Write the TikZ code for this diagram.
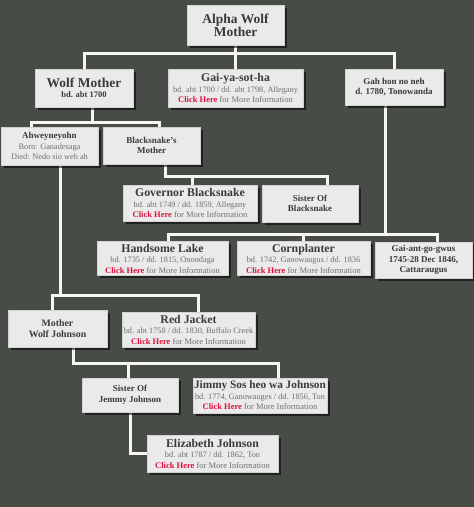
\documentclass[tikz,border=0pt]{standalone}
\usepackage{fontspec}
\setmainfont{Liberation Serif}
\usetikzlibrary{shadows}
\pgfdeclarelayer{bglayer}
\pgfdeclarelayer{connlayer}
\pgfsetlayers{bglayer,connlayer,main}
\definecolor{bgc}{HTML}{484C47}
\definecolor{boxfill}{HTML}{EAEAEA}
\definecolor{boxedge}{HTML}{D2D2D2}
\definecolor{titlec}{HTML}{3A3A3A}
\definecolor{detc}{HTML}{707070}
\definecolor{clickred}{HTML}{E0103C}
\definecolor{linec}{HTML}{F6F6F2}
\newcommand\bigT[1]{{\fontsize{13.5}{14.5}\selectfont\bfseries\color{titlec}#1}}
\newcommand\midT[1]{{\fontsize{11.8}{10.5}\selectfont\bfseries\color{titlec}#1}}
\newcommand\smT[1]{{\fontsize{9}{10.5}\selectfont\bfseries\color{titlec}#1}}
\newcommand\detl[1]{{\fontsize{8.3}{10.5}\selectfont\color{detc}#1}}
\newcommand\clickinfo{{\fontsize{8.5}{10.5}\selectfont\textcolor{clickred}{\bfseries Click Here}\textcolor{detc}{\ for More Information}}}
\tikzset{
  box/.style={rectangle, draw=boxedge, line width=0.5pt, fill=boxfill,
    align=center, inner sep=0pt, font=\fontsize{9}{10.5}\selectfont,
    drop shadow={shadow xshift=2.5pt, shadow yshift=-2.5pt, fill=black, opacity=0.55}},
  conn/.style={draw=linec, line width=3pt, line cap=rect, line join=miter}
}
\begin{document}
\begin{tikzpicture}[x=1pt,y=-1pt]
\begin{pgfonlayer}{bglayer}
\fill[bgc] (0,0) rectangle (474,507);
\end{pgfonlayer}
\useasboundingbox (0,0) rectangle (474,507);
\path
 (235.5,25)  coordinate (cA)
 (84,88)     coordinate (cB)
 (235.5,88)  coordinate (cC)
 (394,87)    coordinate (cD)
 (49.5,146)  coordinate (cE)
 (151.5,145.5) coordinate (cF)
 (190,203)   coordinate (cG)
 (310,203.5) coordinate (cH)
 (162.5,258.5) coordinate (cI)
 (303.5,258.5) coordinate (cJ)
 (423.5,260) coordinate (cK)
 (57.5,328.5) coordinate (cL)
 (188.5,329.5) coordinate (cM)
 (130,395)   coordinate (cN)
 (260,395.5) coordinate (cO)
 (212.5,453.5) coordinate (cP);

\node[box, minimum width=97pt, minimum height=40pt] (A) at (cA) {\bigT{Alpha Wolf}\\\bigT{Mother}};
\node[box, minimum width=98pt, minimum height=38pt] (B) at (cB) {\midT{\fontsize{13.5}{10.5}\selectfont Wolf Mother}\\\smT{\fontsize{8.5}{10.5}\selectfont bd. abt 1700}};
\node[box, minimum width=135pt, minimum height=38pt] (C) at (cC) {\midT{Gai-ya-sot-ha}\\\detl{bd. abt 1700 / dd. abt 1798, Allegany}\\\clickinfo};
\node[box, minimum width=98pt, minimum height=36pt] (D) at (cD) {\smT{Gah hon no neh}\\\smT{d. 1780, Tonowanda}};
\node[box, minimum width=97pt, minimum height=38pt] (E) at (cE) {\smT{Ahweyneyohn}\\\detl{Born: Ganadesaga}\\\detl{Died: Nedo sio weh ah}};
\node[box, minimum width=97pt, minimum height=37pt] (F) at (cF) {\smT{Blacksnake's}\\\smT{Mother}};
\node[box, minimum width=134pt, minimum height=36pt] (G) at (cG) {\midT{Governor Blacksnake}\\\detl{bd. abt 1749 / dd. 1859, Allegany}\\\clickinfo};
\node[box, minimum width=96pt, minimum height=37pt] (H) at (cH) {\smT{Sister Of}\\\smT{Blacksnake}};
\node[box, minimum width=131pt, minimum height=34pt] (I) at (cI) {\midT{Handsome Lake}\\\detl{bd. 1735 / dd. 1815, Onondaga}\\\clickinfo};
\node[box, minimum width=133pt, minimum height=34pt] (J) at (cJ) {\midT{Cornplanter}\\\detl{bd. 1742, Ganowaugus / dd. 1836}\\\clickinfo};
\node[box, minimum width=97pt, minimum height=36pt] (K) at (cK) {\smT{Gai-ant-go-gwus}\\\smT{1745-28 Dec 1846,}\\\smT{Cattaraugus}};
\node[box, minimum width=99pt, minimum height=37pt] (L) at (cL) {\smT{\fontsize{9.8}{11}\selectfont Mother}\\\smT{\fontsize{9.8}{11}\selectfont Wolf Johnson}};
\node[box, minimum width=133pt, minimum height=35pt] (M) at (cM) {\midT{Red Jacket}\\\detl{bd. abt 1758 / dd. 1830, Buffalo Creek}\\\clickinfo};
\node[box, minimum width=96pt, minimum height=34pt] (N) at (cN) {\smT{Sister Of}\\\smT{Jemmy Johnson}};
\node[box, minimum width=134pt, minimum height=35pt] (O) at (cO) {\midT{\fontsize{11.3}{10.5}\selectfont Jimmy Sos heo wa Johnson}\\\detl{bd. 1774, Ganowauges / dd. 1856, Ton}\\\clickinfo};
\node[box, minimum width=131pt, minimum height=37pt] (P) at (cP) {\midT{Elizabeth Johnson}\\\detl{bd. abt 1787 / dd. 1862, Ton}\\\clickinfo};

\begin{pgfonlayer}{connlayer}
% Alpha Wolf Mother -> children
\draw[conn] (A.south) -- (C.north);
\draw[conn] (B.north) -- (B.north |- 0,53) -- (D.north |- 0,53) -- (D.north);
% Wolf Mother -> children
\draw[conn] ([xshift=8pt]B.south) -- ([xshift=8pt]B.south |- 0,122);
\draw[conn] ([xshift=-18.5pt]E.north) -- ([xshift=-18.5pt]E.north |- 0,122) -- ([xshift=7.5pt]F.north |- 0,122) -- ([xshift=7.5pt]F.north);
% Blacksnake's Mother -> children
\draw[conn] ([xshift=13.5pt]F.south) -- ([xshift=13.5pt]F.south |- 0,176) -- ([xshift=17pt]H.north |- 0,176) -- ([xshift=17pt]H.north);
\draw[conn] ([xshift=2pt]G.north) -- ([xshift=2pt]G.north |- 0,176);
% Gah hon no neh -> children
\draw[conn] ([xshift=-9pt]D.south) -- ([xshift=-9pt]D.south |- 0,234);
\draw[conn] ([xshift=5.5pt]I.north) -- ([xshift=5.5pt]I.north |- 0,234) -- ([xshift=13.5pt]K.north |- 0,234) -- ([xshift=13.5pt]K.north);
\draw[conn] ([xshift=-0.5pt]J.north) -- ([xshift=-0.5pt]J.north |- 0,234);
% Ahweyneyohn -> children
\draw[conn] ([xshift=10.5pt]E.south) -- ([xshift=10.5pt]E.south |- 0,295);
\draw[conn] ([xshift=-5.5pt]L.north) -- ([xshift=-5.5pt]L.north |- 0,295) -- ([xshift=9.5pt]M.north |- 0,295) -- ([xshift=9.5pt]M.north);
% Mother Wolf Johnson -> children
\draw[conn] ([xshift=15.5pt]L.south) -- ([xshift=15.5pt]L.south |- 0,363) -- ([xshift=18pt]O.north |- 0,363) -- ([xshift=18pt]O.north);
\draw[conn] ([xshift=-2pt]N.north) -- ([xshift=-2pt]N.north |- 0,363);
% Sister Of Jemmy Johnson -> Elizabeth Johnson
\draw[conn] (N.south) |- (P.west);
\end{pgfonlayer}
\end{tikzpicture}
\end{document}
